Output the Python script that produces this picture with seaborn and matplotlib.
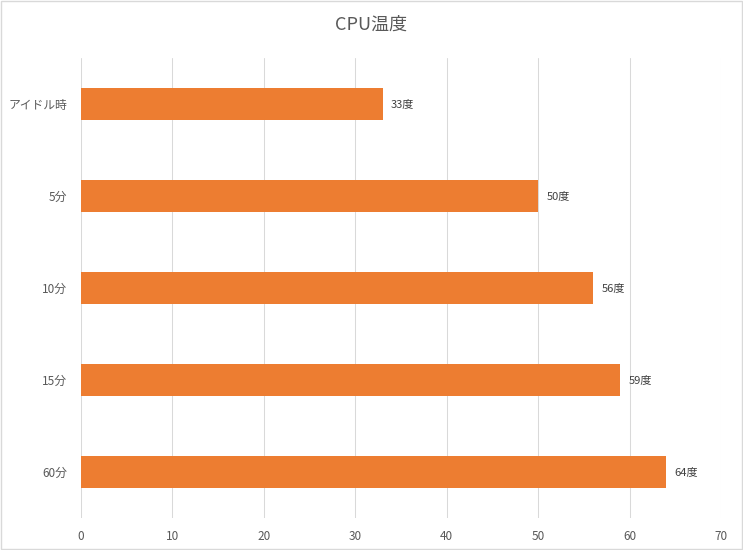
import matplotlib
matplotlib.use('Agg')
import matplotlib.pyplot as plt
import seaborn as sns
import pandas as pd

categories = ['アイドル時', '5分', '10分', '15分', '60分']
temps = [33, 50, 56, 59, 64]
xticks = [0, 10, 20, 30, 40, 50, 60, 70]

sns.set_style('white')
plt.rcParams['font.family'] = ['Noto Sans CJK JP', 'DejaVu Sans']

df = pd.DataFrame({'time': categories, 'temp': temps})

fig = plt.figure(figsize=(7.43, 5.5), dpi=100)
ax = fig.add_axes([81 / 743, 1 - 518 / 550, 640 / 743, 460 / 550])

sns.barplot(data=df, x='temp', y='time', color='#ED7D31', saturation=1,
            width=0.35, linewidth=0, ax=ax, zorder=3)

ax.set_xlim(0, 70)
ax.set_xticks(xticks)
ax.grid(axis='x', color='#D9D9D9', linewidth=0.75, zorder=0)
ax.grid(axis='y', visible=False)
for s in ax.spines.values():
    s.set_visible(False)
ax.set_xlabel('')
ax.set_ylabel('')
ax.tick_params(axis='both', length=0, labelsize=8.5, labelcolor='#595959')
ax.tick_params(axis='x', pad=9)
ax.tick_params(axis='y', pad=10)

for i, v in enumerate(temps):
    ax.text(v + 0.9, i, f'{v}度', va='center', ha='left', fontsize=8, color='#404040')

fig.text(0.5, 1 - 25 / 550, 'CPU温度', ha='center', va='center', fontsize=13, color='#595959')

fig.patches.append(plt.Rectangle((0.001, 0.001), 0.998, 0.997, transform=fig.transFigure,
                                 fill=False, edgecolor='#D9D9D9', linewidth=1))

fig.savefig('out.png', dpi=100)
